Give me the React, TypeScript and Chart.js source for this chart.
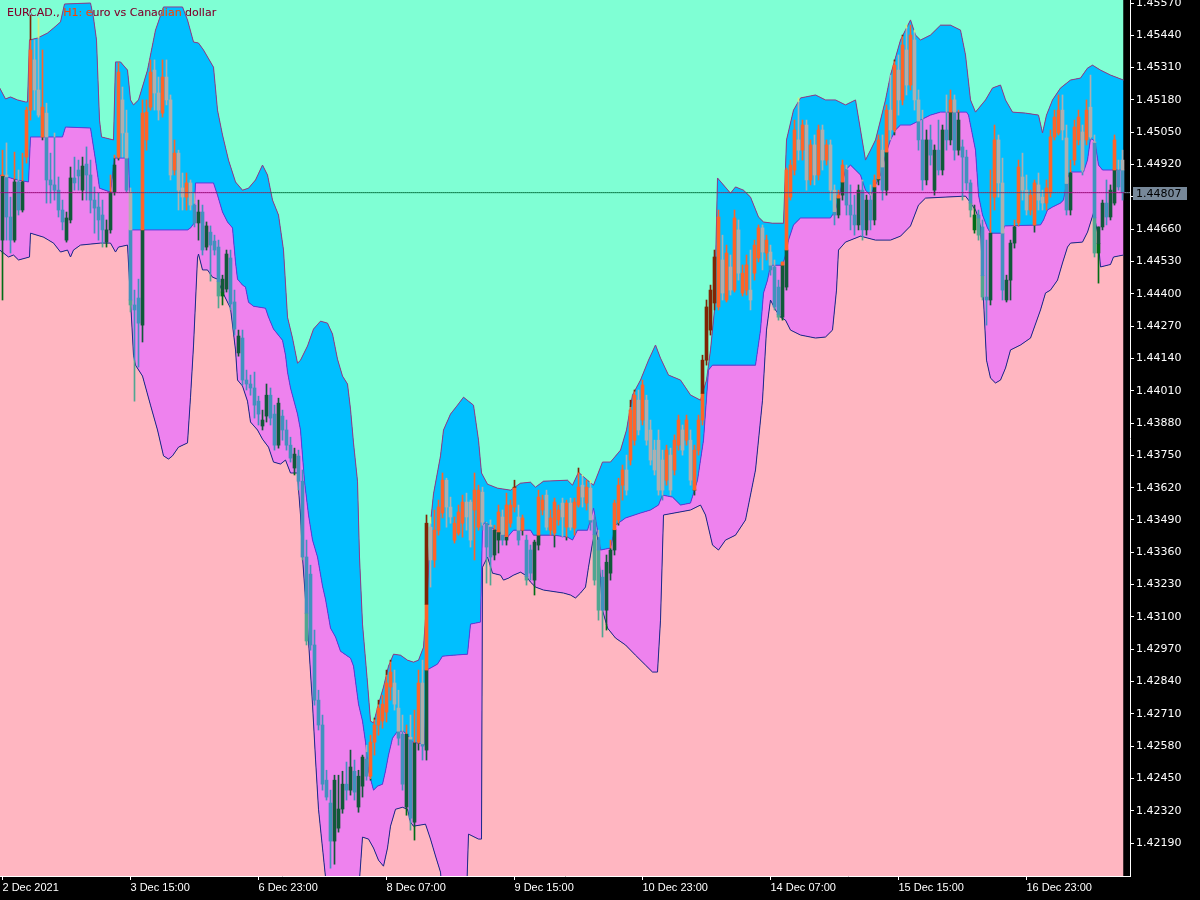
import React, { useEffect, useRef } from "react";
import { Chart, registerables } from "chart.js";

Chart.register(...registerables);

const chartTitle = "EURCAD., H1: euro vs Canadian dollar";
const currentPrice = 1.44807;

const xTickBars = [0, 32, 64, 96, 128, 160, 192, 224, 256];
const xTickLabels = ["2 Dec 2021", "3 Dec 15:00", "6 Dec 23:00", "8 Dec 07:00", "9 Dec 15:00", "10 Dec 23:00", "14 Dec 07:00", "15 Dec 15:00", "16 Dec 23:00"];
const yTickValues = [1.4219, 1.4232, 1.4245, 1.4258, 1.4271, 1.4284, 1.4297, 1.431, 1.4323, 1.4336, 1.4349, 1.4362, 1.4375, 1.4388, 1.4401, 1.4414, 1.4427, 1.444, 1.4453, 1.4466, 1.4479, 1.4492, 1.4505, 1.4518, 1.4531, 1.4544, 1.4557];

// Upper band (aquamarine / deep sky blue boundary), x in bar index
const upperX = [-0.7,0.75,2,3.75,5.75,6.25,6.75,8.75,11.25,12.75,14.5,15.5,22,22.75,23.5,24.25,24.75,27.75,28.25,29.5,31.25,32,32.75,34,36.25,38.25,40.25,45,46.25,47.75,49,50.25,52.75,53.75,55,56.5,58.25,60,61.5,63.25,65,66.25,67.5,69,70.25,71.25,72.5,73.75,74.5,76.25,77.75,79.5,81.25,82.5,83.75,85,86.25,87,87.75,88.75,89.25,90,91.25,92,92.75,94,95.25,96.5,97.75,99.5,101.25,102.75,104,105.25,106.25,107,107.75,109.5,110.25,112,113.75,115.25,116.5,117.75,119,119.75,121.25,123.75,127,129.5,132,133.25,135.25,141.25,142.5,144,146.25,147.75,150,152,154.5,156,157.5,159.5,161.5,163.25,164.5,166.5,169.5,172,174.5,176,177,178,178.75,182,183.25,185.25,187,189,190.25,192.5,195.25,196,197.75,199.5,203.25,205.75,208.25,210.75,213.25,214.5,215.75,217,218.25,219.5,220.75,222,224.5,227,228.25,229.5,232,234.5,237,239.5,240.75,242,243.25,245.75,247.5,249.5,250.75,252.5,255.75,259,260,261,262.5,264.5,267,269.5,271.25,272.5,274.5,277,280.25];
const upperV = [1.45228,1.45184,1.45192,1.45180,1.45172,1.45172,1.45421,1.45429,1.45449,1.45469,1.45494,1.45566,1.45570,1.45510,1.45421,1.45099,1.45031,1.45019,1.45333,1.45333,1.45300,1.45180,1.45160,1.45180,1.45300,1.45461,1.45554,1.45554,1.45502,1.45413,1.45409,1.45381,1.45312,1.45139,1.45039,1.44938,1.44850,1.44817,1.44825,1.44858,1.44918,1.44878,1.44777,1.44717,1.44576,1.44306,1.44222,1.44121,1.44133,1.44190,1.44258,1.44290,1.44282,1.44238,1.44137,1.44069,1.44037,1.43936,1.43800,1.43646,1.43341,1.43071,1.42834,1.42681,1.42673,1.42749,1.42818,1.42902,1.42950,1.42946,1.42926,1.42918,1.42926,1.42978,1.43208,1.43477,1.43595,1.43748,1.43852,1.43916,1.43952,1.43984,1.43968,1.43952,1.43811,1.43679,1.43634,1.43618,1.43610,1.43638,1.43642,1.43622,1.43646,1.43650,1.43630,1.43682,1.43650,1.43630,1.43723,1.43723,1.43771,1.43852,1.43993,1.44053,1.44133,1.44194,1.44141,1.44073,1.44053,1.43993,1.43972,1.44053,1.44174,1.44335,1.44866,1.44805,1.44830,1.44817,1.44789,1.44709,1.44689,1.44684,1.44684,1.45019,1.45139,1.45188,1.45200,1.45180,1.45180,1.45160,1.45180,1.45059,1.44938,1.44978,1.45019,1.45099,1.45180,1.45280,1.45421,1.45502,1.45441,1.45421,1.45441,1.45481,1.45481,1.45461,1.45361,1.45180,1.45131,1.45180,1.45228,1.45240,1.45180,1.45131,1.45127,1.45119,1.45047,1.45119,1.45180,1.45228,1.45260,1.45268,1.45308,1.45320,1.45300,1.45280,1.45260];

// Middle band (deep sky blue / violet boundary)
const middleX = [-0.7,2,3.75,6.5,7,15,15.75,22,23.25,24.25,27,28,31.5,32,46.25,47,47.75,48.25,52.75,53.75,55,56.25,57.5,58.25,58.75,60,60.75,61.5,62.75,65.75,66.5,67.75,70,70.75,71.25,72,72.75,73.75,74.5,75,75.5,76.5,77.5,78.75,80,80.75,82,83.25,84.5,87,87.75,89,90,90.75,91.5,92.75,93.75,95,95.75,96.5,97.5,98.75,100.25,101.5,102.5,105.5,106,107,108.75,110,112.75,116.25,117,119.5,120,120.75,122.5,125.25,126.25,127.75,132,132.75,137.75,141.25,142.5,143.75,146.25,147,147.75,148.75,149.5,152,153.25,155.75,159.5,162,164,165,167.5,169.5,172,173.75,175.25,176.5,177.5,188.25,189.5,190.25,191.25,192,195,195.75,196.5,197.75,199.5,207,208.25,209.5,210.75,212,213.25,214.5,215.75,217,218.25,219.5,220.75,222,223.25,224.5,227,229.5,232,234.5,241,241.5,243.25,244,245,246.25,247,250,250.5,259.5,260.25,261.25,262.5,264.5,265.25,266.25,267,270.25,271.25,272,272.75,273.25,274,275,280.25];
const middleV = [1.44878,1.44866,1.44858,1.44850,1.45031,1.45031,1.45071,1.45067,1.44938,1.44825,1.44809,1.44946,1.44946,1.44657,1.44657,1.44665,1.44681,1.44846,1.44846,1.44797,1.44729,1.44689,1.44665,1.44527,1.44459,1.44435,1.44427,1.44366,1.44350,1.44342,1.44306,1.44258,1.44213,1.44153,1.44085,1.44021,1.43976,1.43916,1.43852,1.43748,1.43646,1.43510,1.43409,1.43341,1.43224,1.43171,1.43055,1.43019,1.42962,1.42934,1.42902,1.42749,1.42681,1.42596,1.42480,1.42403,1.42419,1.42427,1.42480,1.42544,1.42612,1.42640,1.42640,1.42620,1.42596,1.42588,1.42886,1.42894,1.42910,1.42942,1.42946,1.42950,1.43071,1.43079,1.43469,1.43481,1.43457,1.43429,1.43421,1.43449,1.43449,1.43429,1.43429,1.43421,1.43409,1.43449,1.43449,1.43490,1.43538,1.43449,1.43369,1.43377,1.43469,1.43498,1.43518,1.43530,1.43550,1.43590,1.43582,1.43550,1.43558,1.43650,1.43811,1.44093,1.44113,1.44113,1.44254,1.44403,1.44455,1.44515,1.44515,1.44556,1.44616,1.44677,1.44705,1.44705,1.44737,1.44817,1.44898,1.44918,1.44898,1.44878,1.44817,1.44797,1.44838,1.44878,1.44958,1.45019,1.45059,1.45079,1.45079,1.45099,1.45119,1.45131,1.45131,1.45119,1.44978,1.44797,1.44717,1.44665,1.44644,1.44644,1.44673,1.44677,1.44697,1.44737,1.44749,1.44765,1.44777,1.44866,1.44890,1.44890,1.44938,1.45025,1.45019,1.44999,1.44918,1.44898,1.44898];

// Lower band (violet / light pink boundary)
const lowerX = [-0.7,1.5,2.75,4,6.75,7,10.25,11.5,12.75,14.5,16.25,17,17.75,19.5,24.5,27,28.25,29,31.25,32,32.75,33.25,35,37,38.75,40.25,41.5,42.5,44,46.25,47,47.75,48.75,49,50,51.25,52.5,53.75,55,57,58.25,58.75,60,61.25,62,63.75,65,66.5,67.75,69.5,70.75,72,73.75,74,74.5,75,75.75,76.5,77.5,78.25,79,80,80.75,82,88.25,89.25,90,91.5,92.75,94,95.25,96.25,97,98.25,100,101.25,102,102.75,105.75,107,108.25,109.5,110.75,115.75,116.5,119,119.75,120,121.25,122.5,124.5,125.25,126.5,127.75,129.5,130.75,132,133.25,135.25,140.25,142,143.25,144.5,145.75,146.5,147.5,148.25,148.75,149,149.5,150,151.25,153.25,155.75,158.25,160.75,162.5,163.75,164.5,165.25,172,174.5,175.75,177.5,179,180.75,183.25,185.75,188.25,190,191,192,193.25,194.5,195.75,197,199.5,203.25,205.75,207.5,208.5,209,210.75,214.5,218.25,222,224.5,227,229,230.75,240.75,241.5,243.25,244,244.5,245.25,246,247,248.25,249.5,250.75,252,254.5,257,259.5,260.75,262,263.75,265,266.25,267,270,271.25,272.75,273.75,274.5,277,277.75,280.25];
const lowerV = [1.44576,1.44548,1.44556,1.44536,1.44548,1.44644,1.44628,1.44616,1.44604,1.44568,1.44576,1.44548,1.44576,1.44596,1.44604,1.44604,1.44568,1.44588,1.44596,1.44375,1.44153,1.44113,1.44069,1.43952,1.43852,1.43748,1.43735,1.43748,1.43783,1.43800,1.43984,1.44190,1.44544,1.44560,1.44496,1.44496,1.44467,1.44459,1.44407,1.44342,1.44174,1.44053,1.44029,1.43968,1.43884,1.43852,1.43815,1.43783,1.43723,1.43715,1.43731,1.43679,1.43679,1.43614,1.43510,1.43341,1.43171,1.43003,1.42749,1.42528,1.42326,1.42170,1.42053,1.41844,1.41844,1.42041,1.42214,1.42206,1.42170,1.42121,1.42097,1.42170,1.42258,1.42326,1.42334,1.42326,1.42274,1.42258,1.42266,1.42206,1.42138,1.42073,1.41844,1.41844,1.42226,1.42206,1.42206,1.43300,1.43341,1.43276,1.43268,1.43248,1.43256,1.43268,1.43280,1.43268,1.43240,1.43220,1.43208,1.43196,1.43188,1.43176,1.43196,1.43220,1.43300,1.43397,1.43449,1.43421,1.43369,1.43248,1.43127,1.43055,1.43015,1.42987,1.42946,1.42906,1.42878,1.42878,1.43087,1.43510,1.43530,1.43550,1.43510,1.43389,1.43369,1.43409,1.43429,1.43490,1.43691,1.43972,1.44254,1.44375,1.44335,1.44306,1.44294,1.44254,1.44234,1.44222,1.44226,1.44254,1.44415,1.44576,1.44608,1.44632,1.44616,1.44616,1.44632,1.44673,1.44757,1.44785,1.44793,1.44777,1.44737,1.44705,1.44669,1.44375,1.44133,1.44061,1.44041,1.44053,1.44101,1.44174,1.44194,1.44222,1.44335,1.44403,1.44415,1.44455,1.44524,1.44588,1.44604,1.44608,1.44648,1.44725,1.44648,1.44508,1.44518,1.44548,1.44556];

// Hourly candles, bar 0 = 2 Dec 2021 07:00
const candleOpen = [1.44616,1.44878,1.44709,1.44616,1.44850,1.44737,1.44950,1.45139,1.45341,1.45220,1.45031,1.45127,1.44858,1.44838,1.44817,1.44737,1.44616,1.44697,1.44866,1.44898,1.44817,1.44922,1.44878,1.44777,1.44749,1.44717,1.44608,1.44657,1.44809,1.44950,1.45180,1.45047,1.44809,1.44355,1.44383,1.44274,1.45019,1.45151,1.45300,1.45208,1.45127,1.45272,1.45180,1.44898,1.44966,1.44826,1.44789,1.44846,1.44757,1.44685,1.44729,1.44588,1.44648,1.44612,1.44588,1.44391,1.44419,1.44544,1.44367,1.44162,1.44222,1.44053,1.44037,1.44021,1.43968,1.43868,1.43908,1.43992,1.43916,1.43791,1.43908,1.43852,1.43791,1.43699,1.43747,1.43646,1.43341,1.43272,1.42987,1.42765,1.42665,1.42443,1.42351,1.42198,1.42250,1.42327,1.42427,1.42403,1.42479,1.42335,1.42419,1.42528,1.42459,1.42596,1.42665,1.42681,1.42717,1.42818,1.42834,1.42733,1.42628,1.42335,1.42616,1.42274,1.42596,1.42834,1.42564,1.43461,1.43329,1.43449,1.43518,1.43650,1.43542,1.43409,1.43437,1.43477,1.43562,1.43562,1.43530,1.43461,1.43602,1.43477,1.43469,1.43349,1.43409,1.43502,1.43409,1.43477,1.43542,1.43502,1.43449,1.43409,1.43369,1.43248,1.43389,1.43530,1.43590,1.43449,1.43437,1.43490,1.43558,1.43461,1.43558,1.43457,1.43550,1.43630,1.43558,1.43618,1.43490,1.43409,1.43260,1.43127,1.43276,1.43369,1.43490,1.43630,1.43691,1.43731,1.43811,1.43972,1.43892,1.43972,1.43852,1.43771,1.43811,1.43731,1.43650,1.43751,1.43691,1.43791,1.43852,1.43811,1.43811,1.43610,1.43771,1.43892,1.44133,1.44254,1.44363,1.44347,1.44536,1.44375,1.44508,1.44415,1.44657,1.44403,1.44415,1.44415,1.44483,1.44544,1.44665,1.44564,1.44568,1.44508,1.44427,1.44306,1.44427,1.44789,1.44898,1.45019,1.44978,1.45079,1.44858,1.44999,1.44878,1.45059,1.44938,1.44999,1.44817,1.44717,1.44797,1.44898,1.44757,1.44717,1.44677,1.44817,1.44657,1.44777,1.44697,1.44858,1.44978,1.44817,1.45139,1.45059,1.45300,1.45180,1.45381,1.45240,1.45421,1.45180,1.45019,1.44858,1.45019,1.44817,1.44978,1.44898,1.45059,1.45019,1.45180,1.44978,1.44991,1.44950,1.44846,1.44657,1.44717,1.44669,1.44387,1.44375,1.44789,1.45019,1.44846,1.44375,1.44455,1.44604,1.44685,1.44870,1.44817,1.44737,1.44677,1.44838,1.44789,1.44765,1.44805,1.45031,1.45047,1.45139,1.45027,1.44737,1.44938,1.45019,1.45051,1.45019,1.45151,1.45011,1.44564,1.44669,1.44765,1.44709,1.44765,1.44898,1.44938];
const candleHigh = [1.44978,1.45007,1.44789,1.44970,1.44898,1.44966,1.45151,1.45530,1.45421,1.45510,1.45381,1.45167,1.44966,1.45047,1.44870,1.44777,1.44729,1.44910,1.44950,1.44938,1.44950,1.44991,1.44938,1.44830,1.44805,1.44777,1.44697,1.44878,1.44958,1.45329,1.45232,1.45139,1.44826,1.44415,1.44459,1.45180,1.45180,1.45341,1.45341,1.45272,1.45341,1.45341,1.45200,1.45019,1.44978,1.44886,1.44886,1.44858,1.44805,1.44777,1.44757,1.44689,1.44673,1.44636,1.44616,1.44475,1.44576,1.44576,1.44415,1.44254,1.44254,1.44093,1.44073,1.44085,1.43988,1.43932,1.44037,1.44021,1.43952,1.43980,1.43932,1.43892,1.43823,1.43779,1.43771,1.43691,1.43409,1.43308,1.43047,1.42805,1.42705,1.42483,1.42403,1.42463,1.42463,1.42479,1.42516,1.42564,1.42524,1.42483,1.42544,1.42584,1.42624,1.42693,1.42765,1.42785,1.42886,1.42926,1.42886,1.42805,1.42705,1.42665,1.42705,1.42725,1.42886,1.42926,1.43510,1.43502,1.43530,1.43570,1.43679,1.43658,1.43582,1.43502,1.43550,1.43590,1.43598,1.43570,1.43679,1.43630,1.43622,1.43481,1.43490,1.43469,1.43550,1.43530,1.43598,1.43570,1.43650,1.43550,1.43510,1.43429,1.43389,1.43409,1.43610,1.43590,1.43610,1.43530,1.43578,1.43550,1.43578,1.43570,1.43578,1.43578,1.43699,1.43671,1.43650,1.43650,1.43510,1.43449,1.43288,1.43349,1.43409,1.43570,1.43658,1.43711,1.43751,1.43972,1.44013,1.44013,1.44053,1.43992,1.43892,1.43811,1.43852,1.43771,1.43791,1.43779,1.43832,1.43912,1.43872,1.43912,1.43852,1.43791,1.43912,1.44153,1.44375,1.44435,1.44576,1.44737,1.44636,1.44596,1.44556,1.44737,1.44697,1.44516,1.44556,1.44576,1.44616,1.44677,1.44677,1.44636,1.44596,1.44536,1.44455,1.44528,1.44906,1.44938,1.45099,1.45188,1.45099,1.45099,1.45019,1.45039,1.45079,1.45079,1.45019,1.45019,1.44838,1.44817,1.44938,1.44918,1.44838,1.44797,1.44838,1.44858,1.44797,1.44838,1.44878,1.45039,1.45039,1.45160,1.45280,1.45341,1.45361,1.45441,1.45481,1.45481,1.45461,1.45220,1.45139,1.45059,1.45079,1.44999,1.45099,1.45079,1.45200,1.45220,1.45200,1.45139,1.45019,1.44978,1.44858,1.44757,1.44737,1.44697,1.44616,1.44898,1.45079,1.45039,1.44946,1.44475,1.44616,1.44697,1.44938,1.44966,1.44878,1.44817,1.44858,1.44886,1.44817,1.44858,1.45059,1.45139,1.45200,1.45200,1.45079,1.44938,1.45099,1.45139,1.45079,1.45180,1.45280,1.45039,1.44669,1.44777,1.44858,1.44838,1.45039,1.44938,1.44978];
const candleLow = [1.44375,1.44616,1.44564,1.44608,1.44717,1.44729,1.44926,1.45099,1.45139,1.45111,1.45019,1.44765,1.44765,1.44777,1.44709,1.44657,1.44608,1.44685,1.44817,1.44817,1.44777,1.44777,1.44725,1.44644,1.44616,1.44588,1.44588,1.44644,1.44797,1.44938,1.44950,1.44809,1.44327,1.43968,1.44105,1.44206,1.44978,1.45139,1.45139,1.45099,1.45111,1.45160,1.44858,1.44878,1.44737,1.44737,1.44737,1.44737,1.44669,1.44616,1.44556,1.44576,1.44451,1.44556,1.44343,1.44355,1.44407,1.44335,1.44234,1.44149,1.44033,1.44013,1.43992,1.43900,1.43872,1.43852,1.43884,1.43872,1.43771,1.43779,1.43811,1.43771,1.43723,1.43671,1.43610,1.43329,1.42987,1.42966,1.42745,1.42645,1.42403,1.42363,1.42089,1.42105,1.42234,1.42310,1.42363,1.42383,1.42363,1.42314,1.42375,1.42443,1.42443,1.42544,1.42624,1.42652,1.42677,1.42765,1.42725,1.42584,1.42403,1.42302,1.42242,1.42202,1.42564,1.42524,1.42524,1.43220,1.43300,1.43429,1.43498,1.43461,1.43477,1.43397,1.43429,1.43421,1.43449,1.43381,1.43329,1.43449,1.43449,1.43236,1.43228,1.43329,1.43357,1.43389,1.43389,1.43461,1.43522,1.43389,1.43429,1.43228,1.43248,1.43188,1.43369,1.43510,1.43449,1.43429,1.43381,1.43469,1.43421,1.43409,1.43449,1.43429,1.43542,1.43542,1.43530,1.43449,1.43228,1.43087,1.43019,1.43047,1.43248,1.43349,1.43469,1.43570,1.43590,1.43711,1.43791,1.43832,1.43872,1.43791,1.43711,1.43671,1.43590,1.43570,1.43630,1.43590,1.43671,1.43771,1.43751,1.43791,1.43630,1.43590,1.43751,1.43872,1.44113,1.44234,1.44335,1.44335,1.44375,1.44367,1.44395,1.44407,1.44455,1.44391,1.44395,1.44335,1.44455,1.44528,1.44496,1.44536,1.44475,1.44335,1.44294,1.44294,1.44415,1.44777,1.44878,1.44938,1.44938,1.44817,1.44838,1.44838,1.44858,1.44898,1.44918,1.44777,1.44677,1.44705,1.44777,1.44717,1.44657,1.44636,1.44657,1.44616,1.44636,1.44657,1.44677,1.44838,1.44777,1.44797,1.45019,1.45039,1.45119,1.45160,1.45200,1.45220,1.45139,1.44978,1.44817,1.44838,1.44918,1.44797,1.44878,1.44878,1.44978,1.44999,1.44938,1.44958,1.44777,1.44817,1.44709,1.44644,1.44616,1.44375,1.44274,1.44355,1.44737,1.44789,1.44375,1.44367,1.44375,1.44584,1.44673,1.44777,1.44717,1.44717,1.44648,1.44737,1.44737,1.44737,1.44789,1.45019,1.45039,1.45019,1.44717,1.44717,1.44918,1.44999,1.44878,1.44999,1.45019,1.44548,1.44443,1.44657,1.44677,1.44697,1.44757,1.44817,1.44777];
const candleClose = [1.44878,1.44709,1.44616,1.44850,1.44737,1.44850,1.45139,1.45381,1.45220,1.45119,1.45151,1.44858,1.44838,1.44817,1.44737,1.44689,1.44705,1.44866,1.44846,1.44874,1.44914,1.44878,1.44777,1.44745,1.44697,1.44657,1.44657,1.44809,1.44918,1.45292,1.45047,1.44817,1.44355,1.44335,1.44282,1.45127,1.45131,1.45292,1.45208,1.45139,1.45272,1.45180,1.44878,1.44966,1.44817,1.44789,1.44846,1.44757,1.44685,1.44729,1.44576,1.44673,1.44596,1.44576,1.44391,1.44459,1.44560,1.44359,1.44258,1.44230,1.44053,1.44037,1.44021,1.43952,1.43916,1.43892,1.43992,1.43900,1.43791,1.43960,1.43852,1.43791,1.43739,1.43755,1.43646,1.43341,1.43003,1.42987,1.42765,1.42665,1.42427,1.42375,1.42198,1.42443,1.42327,1.42427,1.42403,1.42496,1.42395,1.42459,1.42536,1.42459,1.42596,1.42665,1.42733,1.42749,1.42834,1.42878,1.42749,1.42612,1.42427,1.42628,1.42290,1.42592,1.42834,1.42580,1.43477,1.43329,1.43449,1.43542,1.43650,1.43542,1.43502,1.43477,1.43522,1.43562,1.43502,1.43409,1.43610,1.43610,1.43481,1.43381,1.43341,1.43449,1.43522,1.43409,1.43550,1.43550,1.43622,1.43409,1.43498,1.43248,1.43276,1.43401,1.43582,1.43570,1.43461,1.43498,1.43562,1.43530,1.43502,1.43558,1.43461,1.43562,1.43622,1.43582,1.43622,1.43481,1.43248,1.43127,1.43127,1.43320,1.43369,1.43558,1.43630,1.43691,1.43610,1.43932,1.43992,1.43852,1.44033,1.43811,1.43731,1.43691,1.43610,1.43610,1.43771,1.43610,1.43811,1.43892,1.43771,1.43892,1.43650,1.43771,1.43892,1.44133,1.44347,1.44415,1.44548,1.44709,1.44403,1.44564,1.44415,1.44705,1.44483,1.44483,1.44516,1.44375,1.44596,1.44665,1.44568,1.44616,1.44496,1.44347,1.44306,1.44528,1.44898,1.44918,1.45059,1.44978,1.45079,1.44858,1.44999,1.44878,1.45059,1.44938,1.44999,1.44817,1.44717,1.44797,1.44918,1.44757,1.44717,1.44677,1.44817,1.44657,1.44777,1.44697,1.44858,1.45019,1.44817,1.45139,1.45059,1.45320,1.45180,1.45401,1.45240,1.45441,1.45180,1.45019,1.44858,1.45019,1.44958,1.44978,1.44898,1.45059,1.45019,1.45180,1.44978,1.45099,1.44950,1.44846,1.44737,1.44717,1.44636,1.44387,1.44375,1.44644,1.45019,1.44846,1.44415,1.44455,1.44604,1.44669,1.44910,1.44817,1.44737,1.44797,1.44846,1.44777,1.44765,1.44826,1.45031,1.45111,1.45139,1.45059,1.44737,1.44886,1.45071,1.45111,1.44898,1.45139,1.45031,1.44564,1.44669,1.44765,1.44709,1.44817,1.45019,1.44830,1.44807];

// Scale window (axis geometry, not data)
const Y_MIN = 1.420575;
const Y_MAX = 1.455821;
const X_MIN = -0.625;
const X_MAX = 281.875;

const FILL_AQUA = "#7FFFD4";
const FILL_BLUE = "#00BFFF";
const FILL_VIOLET = "#EE82EE";
const FILL_PINK = "#FFB6C1";
const BULL_COLORS = ["#802403", "#FF6428", "#115939", "#006D16"];
const BEAR_COLORS = ["#D0EF84", "#AFAFAF", "#4192BE", "#50A691"];
const BID_COLORS = ["#087745", "#773766", "#990A77", "#883E58", "#778899"];

function interp(xs: number[], vs: number[], x: number): number {
  const n = Math.min(xs.length, vs.length);
  if (x <= xs[0]) return vs[0];
  if (x >= xs[n - 1]) return vs[n - 1];
  let k = 1;
  while (k < n - 1 && xs[k] < x) k++;
  const x0 = xs[k - 1];
  const x1 = xs[k];
  if (x1 === x0) return vs[k];
  const t = (x - x0) / (x1 - x0);
  return vs[k - 1] + t * (vs[k] - vs[k - 1]);
}

function regionAt(x: number, v: number): number {
  if (x < upperX[0] || x > upperX[upperX.length - 1]) return 4;
  const u = interp(upperX, upperV, x);
  const m = interp(middleX, middleV, x);
  const l = interp(lowerX, lowerV, x);
  if (v >= u) return 0;
  if (v >= m) return 1;
  if (v >= l) return 2;
  return 3;
}

function toPoints(xs: number[], vs: number[]) {
  const n = Math.min(xs.length, vs.length);
  const out: { x: number; y: number }[] = [];
  for (let k = 0; k < n; k++) out.push({ x: xs[k], y: vs[k] });
  return out;
}

function buildCandleDatasets() {
  const n = Math.min(candleOpen.length, candleHigh.length, candleLow.length, candleClose.length);
  const bodies: any[][][] = [[[], [], [], []], [[], [], [], []]];
  const wicks: any[][][] = [[[], [], [], []], [[], [], [], []]];
  for (let i = 0; i < n; i++) {
    const o = candleOpen[i];
    const h = candleHigh[i];
    const l = candleLow[i];
    const c = candleClose[i];
    const kind = c >= o ? 0 : 1;
    const u = interp(upperX, upperV, i);
    const m = interp(middleX, middleV, i);
    const lo = interp(lowerX, lowerV, i);
    const bounds = [
      [u, Infinity],
      [m, u],
      [lo, m],
      [-Infinity, lo],
    ];
    let bLo = Math.min(o, c);
    let bHi = Math.max(o, c);
    if (bHi - bLo < 0.00003) {
      const mid = (bLo + bHi) / 2;
      bLo = mid - 0.000015;
      bHi = mid + 0.000015;
    }
    for (let r = 0; r < 4; r++) {
      const rl = bounds[r][0];
      const rh = bounds[r][1];
      const wa = Math.max(l, rl);
      const wb = Math.min(h, rh);
      if (wb > wa) wicks[kind][r].push({ x: i, y: [wa, wb] });
      const ba = Math.max(bLo, rl);
      const bb = Math.min(bHi, rh);
      if (bb > ba) bodies[kind][r].push({ x: i, y: [ba, bb] });
    }
  }
  const sets: any[] = [];
  for (let kind = 0; kind < 2; kind++) {
    const colors = kind === 0 ? BULL_COLORS : BEAR_COLORS;
    for (let r = 0; r < 4; r++) {
      sets.push({
        type: "bar",
        data: bodies[kind][r],
        backgroundColor: colors[r],
        borderWidth: 0,
        barThickness: 3,
        grouped: false,
        order: 1,
      });
      sets.push({
        type: "bar",
        data: wicks[kind][r],
        backgroundColor: colors[r],
        borderWidth: 0,
        barThickness: 1,
        grouped: false,
        order: 2,
      });
    }
  }
  return sets;
}

const backgroundPlugin = {
  id: "mtBackground",
  beforeDraw(chart: any) {
    const ctx = chart.ctx;
    ctx.save();
    ctx.fillStyle = "#000000";
    ctx.fillRect(0, 0, chart.width, chart.height);
    ctx.restore();
  },
};

const overlayPlugin = {
  id: "mtOverlay",
  afterDraw(chart: any) {
    const ctx = chart.ctx;
    const yScale = chart.scales.y;
    ctx.save();
    ctx.globalCompositeOperation = "difference";
    ctx.fillStyle = "#ffffff";
    ctx.font = '11px "DejaVu Sans"';
    ctx.textBaseline = "alphabetic";
    ctx.textAlign = "left";
    ctx.fillText(chartTitle, 7, 16);
    ctx.restore();

    const py = yScale.getPixelForValue(currentPrice);
    const top = Math.round(py) - 6;
    ctx.save();
    ctx.fillStyle = "#778899";
    ctx.fillRect(1133, top, 54, 13);
    ctx.fillStyle = "#000000";
    ctx.font = '11px "DejaVu Sans"';
    ctx.textBaseline = "middle";
    ctx.textAlign = "left";
    ctx.fillText(currentPrice.toFixed(5), 1136, top + 7);
    ctx.restore();
  },
};

export default function App() {
  const canvasRef = useRef<HTMLCanvasElement | null>(null);

  useEffect(() => {
    const canvas = canvasRef.current;
    if (!canvas) return;

    const bidXs: number[] = [];
    for (let x = -1; x <= 283; x += 0.5) bidXs.push(x);

    const datasets: any[] = [
      {
        type: "line",
        data: toPoints(upperX, upperV),
        borderColor: "#8E3C8E",
        borderWidth: 1,
        pointRadius: 0,
        tension: 0,
        fill: "end",
        backgroundColor: FILL_AQUA,
        order: 3,
      },
      {
        type: "line",
        data: toPoints(middleX, middleV),
        borderColor: "#5E3CDC",
        borderWidth: 1,
        pointRadius: 0,
        tension: 0,
        fill: "-1",
        backgroundColor: FILL_BLUE,
        order: 3,
      },
      {
        type: "line",
        data: toPoints(lowerX, lowerV),
        borderColor: "#1C2A8C",
        borderWidth: 1,
        pointRadius: 0,
        tension: 0,
        fill: "-1",
        backgroundColor: FILL_VIOLET,
        order: 3,
      },
      {
        type: "line",
        data: toPoints(lowerX, lowerV),
        borderWidth: 0,
        borderColor: "rgba(0,0,0,0)",
        pointRadius: 0,
        tension: 0,
        fill: "start",
        backgroundColor: FILL_PINK,
        order: 4,
      },
      ...buildCandleDatasets(),
      {
        type: "line",
        data: bidXs.map((x) => ({ x, y: currentPrice })),
        borderColor: "#778899",
        borderWidth: 1,
        pointRadius: 0,
        tension: 0,
        fill: false,
        order: 0,
        segment: {
          borderColor: (ctx: any) =>
            BID_COLORS[regionAt((ctx.p0.parsed.x + ctx.p1.parsed.x) / 2, currentPrice)],
        },
      },
    ];

    const chart = new Chart(canvas, {
      type: "line",
      data: { datasets },
      options: {
        responsive: false,
        animation: false,
        devicePixelRatio: 1,
        events: [],
        layout: { padding: 0 },
        plugins: {
          legend: { display: false },
          tooltip: { enabled: false },
          title: { display: false },
          filler: { drawTime: "beforeDatasetsDraw", propagate: false },
        },
        scales: {
          x: {
            type: "linear",
            position: "bottom",
            min: X_MIN,
            max: X_MAX,
            offset: false,
            afterBuildTicks: (scale: any) => {
              scale.ticks = xTickBars.map((v) => ({ value: v }));
            },
            afterFit: (scale: any) => {
              scale.height = 24;
              scale.paddingLeft = 0;
              scale.paddingRight = 0;
            },
            ticks: {
              autoSkip: false,
              maxRotation: 0,
              minRotation: 0,
              align: "start",
              padding: 1,
              color: "#ffffff",
              font: { family: "Liberation Sans", size: 11 },
              callback: (_v: any, idx: number) => xTickLabels[idx] ?? "",
            },
            grid: {
              display: true,
              offset: false,
              drawOnChartArea: false,
              drawTicks: true,
              tickLength: 4,
              color: "#ffffff",
            },
            border: { display: true, color: "#ffffff", width: 1 },
          },
          y: {
            type: "linear",
            position: "right",
            min: Y_MIN,
            max: Y_MAX,
            afterBuildTicks: (scale: any) => {
              scale.ticks = yTickValues.map((v) => ({ value: v }));
            },
            afterFit: (scale: any) => {
              scale.width = 70;
              scale.paddingTop = 0;
              scale.paddingBottom = 0;
            },
            ticks: {
              autoSkip: false,
              padding: 2,
              color: "#ffffff",
              font: { family: "DejaVu Sans", size: 11 },
              callback: (v: any) => Number(v).toFixed(5),
            },
            grid: {
              display: true,
              offset: false,
              drawOnChartArea: false,
              drawTicks: true,
              tickLength: 4,
              color: "#ffffff",
            },
            border: { display: true, color: "#ffffff", width: 1 },
          },
        },
      } as any,
      plugins: [backgroundPlugin, overlayPlugin],
    });

    return () => {
      chart.destroy();
    };
  }, []);

  return (
    <div style={{ position: "fixed", left: 0, top: 0, width: 1200, height: 900, background: "#000" }}>
      <canvas ref={canvasRef} width={1200} height={900} style={{ display: "block" }} />
    </div>
  );
}
